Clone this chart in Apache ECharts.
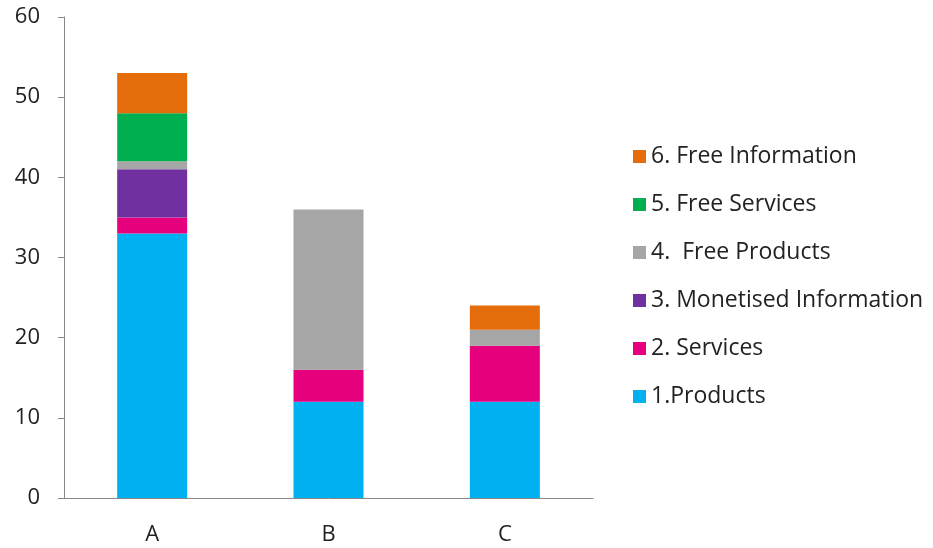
<!DOCTYPE html>
<html>
<head>
<meta charset="utf-8">
<script src="https://cdn.jsdelivr.net/npm/echarts@6/dist/echarts.min.js"></script>
<style>
  html, body { margin: 0; padding: 0; background: #fff; }
  #container { width: 933px; height: 548px; }
</style>
</head>
<body>
<div id="container"></div>
<script>
var categories = ['A', 'B', 'C'];
var seriesNames = ['1.Products', '2. Services', '3. Monetised Information', '4.  Free Products', '5. Free Services', '6. Free Information'];
var products = [33, 12, 12];
var services = [2, 4, 7];
var monetisedInfo = [6, 0, 0];
var freeProducts = [1, 20, 2];
var freeServices = [6, 0, 0];
var freeInfo = [5, 0, 3];
var colors = ['#00B0F0', '#E6007E', '#7030A0', '#A6A6A6', '#00B050', '#E46C0A'];

var dom = document.getElementById('container');
var myChart = echarts.init(dom);

var values = [products, services, monetisedInfo, freeProducts, freeServices, freeInfo];
var font = 'Open Sans';

var series = seriesNames.map(function (name, i) {
    return {
        name: name,
        type: 'bar',
        stack: 'total',
        barWidth: 70,
        itemStyle: { color: colors[i] },
        data: values[i]
    };
});

var option = {
    animation: false,
    color: colors,
    grid: {
        left: 64,
        right: 340,
        top: 17,
        bottom: 50
    },
    legend: {
        orient: 'vertical',
        left: 628,
        top: 140,
        itemWidth: 13,
        itemHeight: 13,
        itemGap: 25,
        icon: 'rect',
        data: seriesNames.slice().reverse(),
        textStyle: { fontFamily: font, fontSize: 23, color: '#222', lineHeight: 23 }
    },
    xAxis: {
        type: 'category',
        data: categories,
        axisLine: { lineStyle: { color: '#888' } },
        axisTick: { length: 10, lineStyle: { color: '#888' } },
        axisLabel: { fontFamily: font, fontSize: 22, color: '#222', margin: 26 }
    },
    yAxis: {
        type: 'value',
        min: 0,
        max: 60,
        interval: 10,
        splitLine: { show: false },
        axisLine: { show: true, lineStyle: { color: '#888' } },
        axisTick: { show: true, length: 6, lineStyle: { color: '#888' } },
        axisLabel: { fontFamily: font, fontSize: 22, color: '#222', margin: 24 }
    },
    series: series
};

if (option && typeof option === 'object') {
    myChart.setOption(option, true);
}
</script>
</body>
</html>
